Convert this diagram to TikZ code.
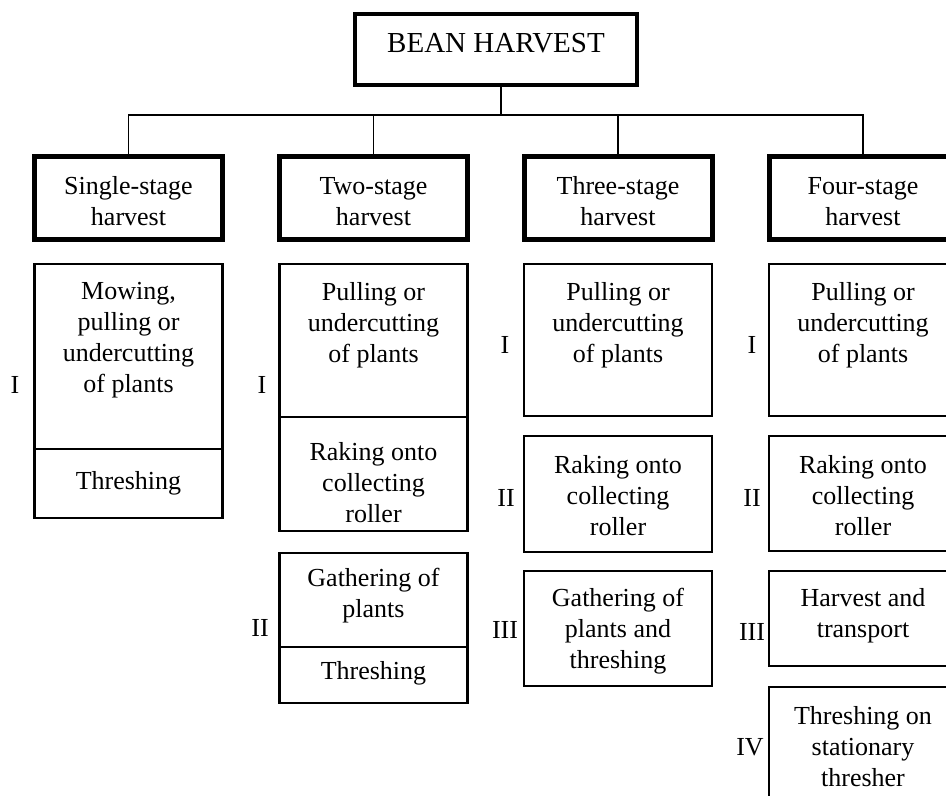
\documentclass[tikz,border=0pt]{standalone}
\usepackage{fontspec}
\setmainfont{Liberation Serif}
\begin{document}
\begin{tikzpicture}[x=1bp,y=-1bp,
  every node/.style={inner sep=0pt},
  body/.style={font=\fontsize{26bp}{31bp}\selectfont, align=center},
  txt/.style={body, yshift=-3bp},
  rootbox/.style={draw, line width=4bp, minimum width=282bp, minimum height=71bp,
    font=\fontsize{29bp}{34bp}\selectfont, text height=19.5bp, text depth=12.5bp},
  stagebox/.style={draw, line width=5bp, minimum width=188bp, minimum height=83bp},
  cell/.style={draw, line width=2.5bp, minimum width=188bp},
  link/.style={line width=1.3bp}]

% page area
\useasboundingbox (0,0) rectangle (946,796);
\clip (0,0) rectangle (946,796);
\fill[white] (0,0) rectangle (946,796);

% root and the four kinds of harvest
\node[rootbox] (root) at (496,49.5) {BEAN HARVEST};
\node[stagebox] (s1) at (128.5,198) {};
\node[stagebox] (s2) at (373.5,198) {};
\node[stagebox] (s3) at (618,198) {};
\node[stagebox] (s4) at (863,198) {};
\node[body] (s1t) at (128.5,201.5) {Single-stage\\harvest};
\node[body] (s2t) at (373.5,201.5) {Two-stage\\harvest};
\node[body] (s3t) at (618,201.5) {Three-stage\\harvest};
\node[body] (s4t) at (863,201.5) {Four-stage\\harvest};

% tree connectors
\coordinate (hub) at (501,115);
\draw[link] (root.south -| hub) -- (hub);
\draw[link] (s1.north) |- (s4.north |- hub) -- (s4.north);
\draw[link] (s2.north) -- (s2.north |- hub);
\draw[link] (s3.north) -- (s3.north |- hub);

% single-stage column
\node[cell, minimum height=185bp] (c1a) at (128.5,356.5) {};
\node[cell, minimum height=69bp] (c1b) at (128.5,483.5) {};
\node[txt] (t1a) at (128.5,337) {Mowing,\\pulling or\\undercutting\\of plants};
\node[txt] (t1b) at (128.5,480) {Threshing};
\node[body] (l1a) at (15,385) {I};

% two-stage column
\node[cell, minimum height=153bp] (c2a) at (373.5,340.5) {};
\node[cell, minimum height=114bp] (c2b) at (373.5,474) {};
\node[txt] (t2a) at (373.5,322) {Pulling or\\undercutting\\of plants};
\node[txt] (t2b) at (373.5,480) {Raking onto\\collecting\\roller};
\node[body] (l2a) at (262,385) {I};
\node[cell, minimum height=94bp] (c2c) at (373.5,600) {};
\node[cell, minimum height=56bp] (c2d) at (373.5,675) {};
\node[txt] (t2c) at (373.5,593) {Gathering of\\plants};
\node[txt] (t2d) at (373.5,670) {Threshing};
\node[body] (l2b) at (260,628) {II};

% three-stage column
\node[cell, minimum height=152bp] (c3a) at (618,340) {};
\node[cell, minimum height=116bp] (c3b) at (618,494) {};
\node[cell, minimum height=115bp] (c3c) at (618,628.5) {};
\node[txt] (t3a) at (618,322) {Pulling or\\undercutting\\of plants};
\node[txt] (t3b) at (618,493) {Raking onto\\collecting\\roller};
\node[txt] (t3c) at (618,628) {Gathering of\\plants and\\threshing};
\node[body] (l3a) at (505,345) {I};
\node[body] (l3b) at (506,498) {II};
\node[body] (l3c) at (505,630) {III};

% four-stage column
\node[cell, minimum height=152bp] (c4a) at (863,340) {};
\node[cell, minimum height=115bp] (c4b) at (863,493.5) {};
\node[cell, minimum height=95bp] (c4c) at (863,618.5) {};
\node[cell, minimum height=153bp] (c4d) at (863,763.5) {};
\node[txt] (t4a) at (863,322) {Pulling or\\undercutting\\of plants};
\node[txt] (t4b) at (863,493) {Raking onto\\collecting\\roller};
\node[txt] (t4c) at (863,613) {Harvest and\\transport};
\node[txt] (t4d) at (863,744) {Threshing on\\stationary\\thresher};
\node[body] (l4a) at (752,345) {I};
\node[body] (l4b) at (752,498) {II};
\node[body] (l4c) at (752,632) {III};
\node[body] (l4d) at (750,747) {IV};
\end{tikzpicture}
\end{document}
